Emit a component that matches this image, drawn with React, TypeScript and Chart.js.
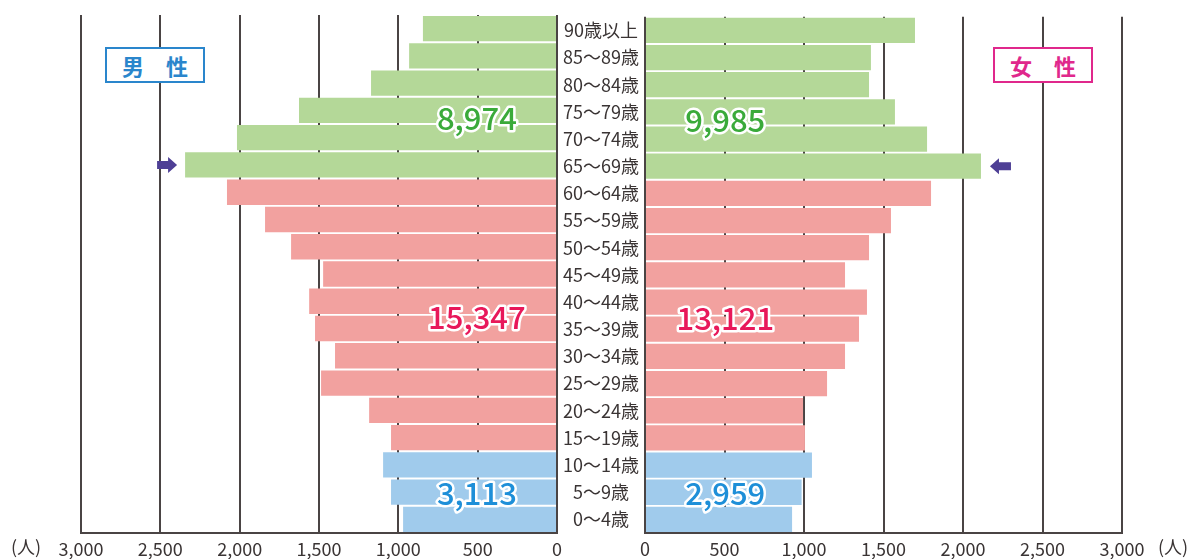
import React, { useEffect, useRef } from "react";
import { Chart, registerables } from "chart.js";
Chart.register(...registerables);

// Age groups, top to bottom
const ageGroups = [
  "90歳以上", "85〜89歳", "80〜84歳", "75〜79歳", "70〜74歳", "65〜69歳",
  "60〜64歳", "55〜59歳", "50〜54歳", "45〜49歳", "40〜44歳", "35〜39歳",
  "30〜34歳", "25〜29歳", "20〜24歳", "15〜19歳", "10〜14歳", "5〜9歳", "0〜4歳",
];
const maleValues = [845, 932, 1172, 1626, 2017, 2344, 2080, 1840, 1676, 1474, 1562, 1525, 1399, 1487, 1184, 1046, 1096, 1046, 970];
const femaleValues = [1698, 1421, 1409, 1572, 1774, 2113, 1799, 1547, 1409, 1258, 1396, 1346, 1258, 1145, 994, 1006, 1050, 985, 925];
const maleTotals = ["8,974", "15,347", "3,113"];
const femaleTotals = ["9,985", "13,121", "2,959"];
const groupSizes = [6, 10, 3]; // 65+, 15-64, 0-14
const axisMax = 3000;
const axisStep = 500;
const unitLabel = "(人)";

const FONT = '"Noto Sans CJK JP", "Noto Sans", sans-serif';
const barColors = ["#b4d898", "#f2a19f", "#a0cbec"];
const textColors = ["#3aaa3a", "#e8185a", "#1e8fd8"];
const lineColor = "#4a4444";
const arrowColor = "#4e3f95";

function colorsFor(): string[] {
  const out: string[] = [];
  groupSizes.forEach((n, g) => { for (let i = 0; i < n; i++) out.push(barColors[g]); });
  return out;
}

const totalRows = [3.3, 10.6, 17.05];

function makePlugin(totals: string[], side: "left" | "right") {
  return {
    id: "annot-" + side,
    afterDraw(chart: any) {
      const ctx = chart.ctx;
      const xs = chart.scales.x;
      const ys = chart.scales.y;
      ctx.save();
      // totals
      ctx.font = `500 31px ${FONT}`;
      ctx.textAlign = "center";
      ctx.textBaseline = "middle";
      ctx.lineJoin = "round";
      totals.forEach((t, i) => {
        const x = xs.getPixelForValue(505);
        const y = ys.getPixelForValue(totalRows[i]);
        ctx.strokeStyle = "#ffffff";
        ctx.lineWidth = 5;
        ctx.strokeText(t, x, y);
        ctx.fillStyle = textColors[i];
        ctx.fillText(t, x, y);
      });
      // arrow at 65-69 row
      const vals = side === "left" ? maleValues : femaleValues;
      const ay = ys.getPixelForValue(5);
      const barEnd = xs.getPixelForValue(vals[5]);
      ctx.fillStyle = arrowColor;
      ctx.beginPath();
      if (side === "left") {
        const tip = barEnd - 8;
        ctx.moveTo(tip, ay);
        ctx.lineTo(tip - 9, ay - 8);
        ctx.lineTo(tip - 9, ay - 4);
        ctx.lineTo(tip - 20, ay - 4);
        ctx.lineTo(tip - 20, ay + 4);
        ctx.lineTo(tip - 9, ay + 4);
        ctx.lineTo(tip - 9, ay + 8);
      } else {
        const tip = barEnd + 9;
        ctx.moveTo(tip, ay);
        ctx.lineTo(tip + 9, ay - 8);
        ctx.lineTo(tip + 9, ay - 4);
        ctx.lineTo(tip + 21, ay - 4);
        ctx.lineTo(tip + 21, ay + 4);
        ctx.lineTo(tip + 9, ay + 4);
        ctx.lineTo(tip + 9, ay + 8);
      }
      ctx.closePath();
      ctx.fill();
      // unit label
      ctx.font = `18px ${FONT}`;
      ctx.fillStyle = "#3a3434";
      ctx.textBaseline = "top";
      const ux = side === "left" ? xs.getPixelForValue(axisMax) - 55 : xs.getPixelForValue(axisMax) + 51;
      ctx.fillText(unitLabel, ux, xs.top + 5);
      ctx.restore();
    },
  };
}

function xScale(reverse: boolean) {
  return {
    reverse,
    min: 0,
    max: axisMax,
    z: 1,
    ticks: {
      stepSize: axisStep,
      autoSkip: false,
      maxRotation: 0,
      padding: 5,
      color: "#3a3434",
      font: { family: FONT, size: 18 },
      callback: (v: any) => Number(v).toLocaleString("en-US"),
    },
    grid: { color: lineColor, lineWidth: 2, drawTicks: false },
    border: { display: true, color: lineColor, width: 2 },
    afterFit: (s: any) => { s.height = 26; },
  };
}

export default function App() {
  const leftRef = useRef<HTMLCanvasElement>(null);
  const rightRef = useRef<HTMLCanvasElement>(null);

  useEffect(() => {
    const colors = colorsFor();
    const left = new Chart(leftRef.current!, {
      type: "bar",
      data: {
        labels: ageGroups,
        datasets: [{ data: maleValues, backgroundColor: colors, barPercentage: 0.93, categoryPercentage: 1 }],
      },
      options: {
        indexAxis: "y",
        animation: false,
        responsive: false,
        maintainAspectRatio: false,
        layout: { padding: { left: 81, right: 43, top: 15, bottom: 0 } },
        plugins: { legend: { display: false }, tooltip: { enabled: false } },
        scales: {
          x: xScale(true) as any,
          y: { display: false },
        },
      },
      plugins: [makePlugin(maleTotals, "left")],
    });
    const right = new Chart(rightRef.current!, {
      type: "bar",
      data: {
        labels: ageGroups,
        datasets: [{ data: femaleValues, backgroundColor: colors, barPercentage: 0.93, categoryPercentage: 1 }],
      },
      options: {
        indexAxis: "y",
        animation: false,
        responsive: false,
        maintainAspectRatio: false,
        layout: { padding: { left: 0, right: 66, top: 15, bottom: 0 } },
        plugins: { legend: { display: false }, tooltip: { enabled: false } },
        scales: {
          x: xScale(false) as any,
          y: {
            position: "left",
            grid: { display: false, drawTicks: false },
            border: { display: false },
            ticks: {
              crossAlign: "center",
              padding: 6,
              color: "#3a3434",
              font: { family: FONT, size: 18 },
              autoSkip: false,
            },
            afterFit: (s: any) => { s.width = 88; },
          } as any,
        },
      },
      plugins: [makePlugin(femaleTotals, "right")],
    });
    return () => { left.destroy(); right.destroy(); };
  }, []);

  const boxBase: React.CSSProperties = {
    position: "absolute",
    top: 47,
    width: 100,
    height: 36,
    boxSizing: "border-box",
    background: "#fff",
    fontFamily: FONT,
    fontWeight: "bold",
    fontSize: 22,
    lineHeight: "32px",
    textAlign: "center",
  };

  return (
    <div style={{ position: "fixed", left: 0, top: 0, width: 1188, height: 559, background: "#fff", overflow: "hidden" }}>
      <canvas ref={leftRef} width={600} height={559} style={{ position: "absolute", left: 0, top: 0 }} />
      <canvas ref={rightRef} width={631} height={559} style={{ position: "absolute", left: 557, top: 0 }} />
      <div style={{ ...boxBase, left: 105, border: "2px solid #2a86cc", color: "#2a86cc" }}>男　性</div>
      <div style={{ ...boxBase, left: 993, border: "2px solid #e0288c", color: "#e0288c" }}>女　性</div>
    </div>
  );
}
